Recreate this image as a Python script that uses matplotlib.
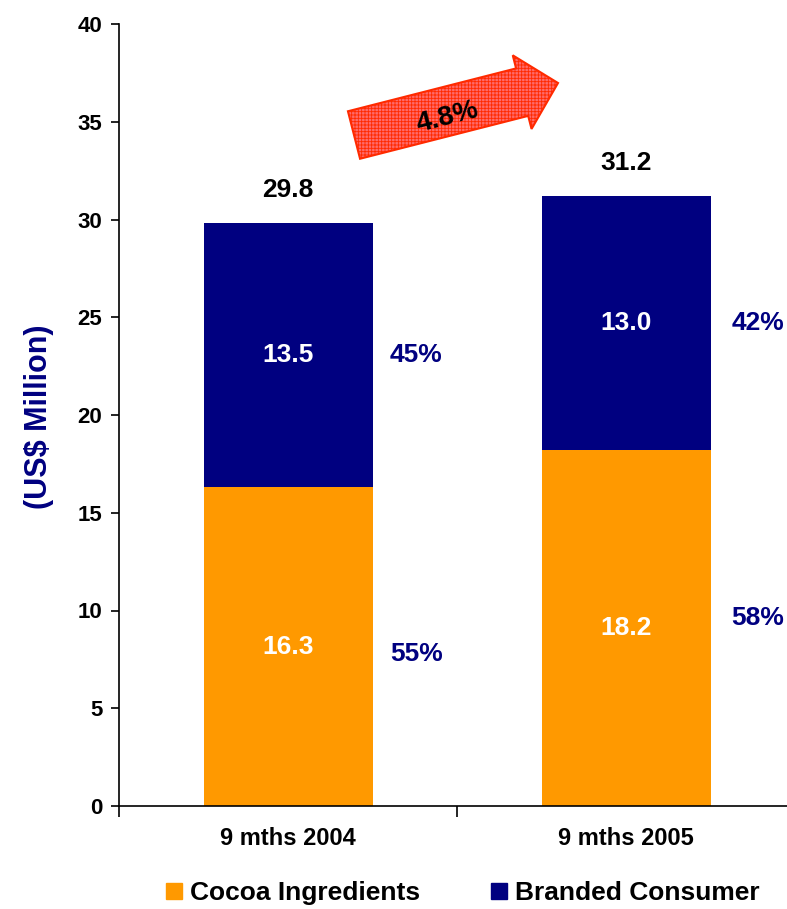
import matplotlib
matplotlib.use("Agg")
import matplotlib.pyplot as plt
from matplotlib.patches import Polygon
from matplotlib.lines import Line2D
import numpy as np

plt.rcParams['font.family'] = ['Liberation Sans', 'DejaVu Sans']
plt.rcParams['font.weight'] = 'bold'
plt.rcParams['hatch.linewidth'] = 0.6

periods = ["9 mths 2004", "9 mths 2005"]
cocoa = [16.3, 18.2]
branded = [13.5, 13.0]
totals = [29.8, 31.2]
cocoa_pct = ["55%", "58%"]
branded_pct = ["45%", "42%"]
growth = "4.8%"

orange = "#FF9900"
navy = "#000080"

fig = plt.figure(figsize=(7.87, 9.09), dpi=100)
ax = fig.add_axes([119 / 787, 103 / 909, 676 / 787, 782 / 909])

x = np.arange(len(periods))
ax.bar(x, cocoa, width=0.5, color=orange, label="Cocoa Ingredients")
ax.bar(x, branded, width=0.5, bottom=cocoa, color=navy, label="Branded Consumer")

pct_dx = [0.38, 0.39]
pct_dy = [-0.4, 0.5]
for i in range(len(periods)):
    ax.text(x[i], cocoa[i] / 2, f"{cocoa[i]:.1f}", color="white", ha="center", va="center", fontsize=19)
    ax.text(x[i], cocoa[i] + branded[i] / 2, f"{branded[i]:.1f}", color="white", ha="center", va="center", fontsize=19)
    ax.text(x[i], totals[i] + 1.7, f"{totals[i]:.1f}", color="black", ha="center", va="center", fontsize=19)
    ax.text(x[i] + pct_dx[i], cocoa[i] / 2 + pct_dy[i], cocoa_pct[i], color=navy, ha="center", va="center", fontsize=19)
    ax.text(x[i] + pct_dx[i], cocoa[i] + branded[i] / 2, branded_pct[i], color=navy, ha="center", va="center", fontsize=19)

ax.set_xlim(-0.5, 1.5)
ax.set_ylim(0, 40)
ax.set_yticks(range(0, 41, 5))
ax.set_xticks(x)
ax.set_xticklabels(periods, fontsize=17)
ax.set_xticks([-0.5, 0.5, 1.5], minor=True)
ax.tick_params(axis="x", which="major", length=0, pad=15)
ax.tick_params(axis="x", which="minor", length=8, direction="out", width=1.2)
ax.tick_params(axis="y", length=6, width=1.2, labelsize=16, pad=6)
for s in ["top", "right"]:
    ax.spines[s].set_visible(False)
ax.spines["left"].set_linewidth(1.2)
ax.spines["bottom"].set_linewidth(1.2)

fig.text(39 / 787, 1 - 417 / 909, "(US$ Million)", rotation=90, color=navy, fontsize=22,
         ha="center", va="center")

# growth arrow, drawn in pixel space
tail = np.array([354.0, 135.0])
tip = np.array([558.0, 83.0])
d = tip - tail
L = np.hypot(*d)
u = d / L
n = np.array([-u[1], u[0]])
shaft_w, head_w, head_len = 49.0, 76.0, 37.0
base = tip - u * head_len
pts_px = [tail + n * shaft_w / 2, base + n * shaft_w / 2, base + n * head_w / 2, tip,
          base - n * head_w / 2, base - n * shaft_w / 2, tail - n * shaft_w / 2]
pts = [(p[0] / 787, 1 - p[1] / 909) for p in pts_px]
arrow = Polygon(pts, closed=True, transform=fig.transFigure, facecolor="#ff6a6a",
                edgecolor="#ff2a00", hatch="+++++", linewidth=1.5)
fig.add_artist(arrow)
angle = np.degrees(np.arctan2(-d[1], d[0]))
fig.text(448 / 787, 1 - 117 / 909, growth, rotation=angle, rotation_mode="anchor",
         ha="center", va="center", fontsize=20, color="black")

handles = [Line2D([], [], marker="s", linestyle="none", markersize=11, color=orange),
           Line2D([], [], marker="s", linestyle="none", markersize=11, color=navy)]
fig.legend(handles, ["Cocoa Ingredients", "Branded Consumer"], loc="center",
           bbox_to_anchor=(463 / 787, 1 - 893 / 909), ncol=2, frameon=False, fontsize=19,
           handlelength=0.6, handletextpad=0.3, columnspacing=2.7)

fig.savefig("out.png", dpi=100)
